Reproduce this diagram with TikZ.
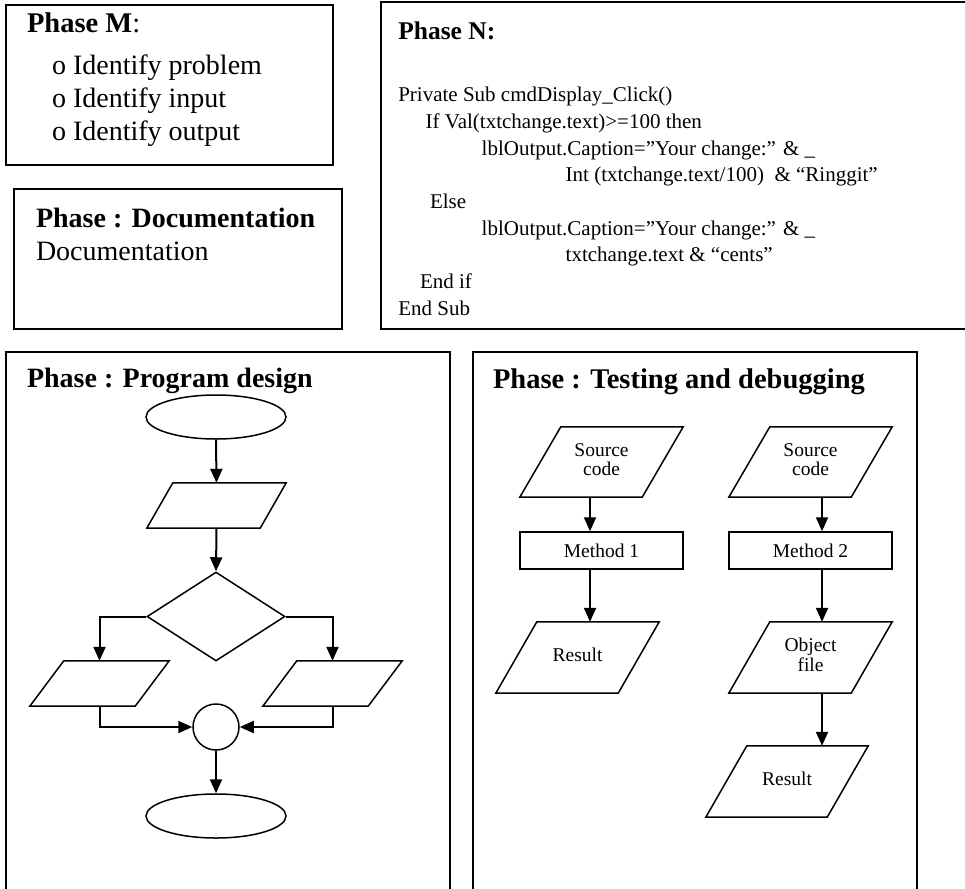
\documentclass[tikz,border=0pt]{standalone}
\usepackage{fontspec}
\setmainfont{Liberation Serif}
\usetikzlibrary{shapes.geometric,arrows.meta,calc}
\newcommand\fsz[1]{\fontsize{#1}{#1}\selectfont}
\newcommand\twoline[2]{\begin{tabular}{@{}c@{}}#1\\#2\end{tabular}}
\newcommand\paral[2]{\draw[shp] (#1.south west) -- ($(#1.south east)+(-#2,0)$) -- (#1.north east) -- ($(#1.north west)+(#2,0)$) -- cycle;}
\tikzset{
  frame/.style={draw=black, line width=1.7pt},
  shp/.style={draw=black, line width=1.5pt},
  arr/.style={line width=2pt, -{Triangle[length=14pt,width=12pt]}},
  txt/.style={anchor=base west, inner sep=0pt, outer sep=0pt},
  pbox/.style={draw=none, inner sep=0pt, align=center, font=\fsz{19.5}},
  ghost/.style={draw=none, inner sep=0pt},
}
\begin{document}
\begin{tikzpicture}[x=1pt,y=-1pt]
\clip (0,0) rectangle (965,888);
\fill[white] (0,0) rectangle (965,888);

% ---------- frames
\draw[frame] (6,5) rectangle (333,165);
\draw[frame] (14,189) rectangle (342,329);
\draw[frame] (381,2) rectangle (975,329);
\draw[frame] (6,352) rectangle (450,900);
\draw[frame] (473,352) rectangle (917,900);

% ---------- Phase M
\node[txt, font=\fsz{28.5}] (tM) at (27,33) {\textbf{Phase M}:};
\node[txt, font=\fsz{28}] (m1t) at (52,75) {o Identify problem};
\node[txt, font=\fsz{28}] (m2t) at (52,107) {o Identify input};
\node[txt, font=\fsz{28}] (m3t) at (52,140) {o Identify output};

% ---------- Documentation
\node[txt, font=\fsz{28}\bfseries] (tD) at (36,227) {Phase : Documentation};
\node[txt, font=\fsz{28}] (dD) at (36,260) {Documentation};

% ---------- Phase N
\node[txt, font=\fsz{25.5}\bfseries] (tN) at (398.3,40) {Phase N:};
\node[txt, font=\fsz{21}] (c1) at (398.3,101.7) {Private Sub cmdDisplay\_Click()};
\node[txt, font=\fsz{21}] (c2) at (425.7,128.3) {If Val(txtchange.text)>=100 then};
\node[txt, font=\fsz{21}] (c3) at (481.7,155) {lblOutput.Caption=”Your change:” \& \_};
\node[txt, font=\fsz{21}] (c4) at (565.7,181.7) {Int (txtchange.text/100)~ \& “Ringgit”};
\node[txt, font=\fsz{21}] (c5) at (430,208.3) {Else};
\node[txt, font=\fsz{21}] (c6) at (481.7,235) {lblOutput.Caption=”Your change:” \& \_};
\node[txt, font=\fsz{21}] (c7) at (565.7,261.7) {txtchange.text \& “cents”};
\node[txt, font=\fsz{21}] (c8) at (420,288.3) {End if};
\node[txt, font=\fsz{21}] (c9) at (398.3,315) {End Sub};

% ---------- Program design
\node[txt, font=\fsz{28}\bfseries] (tP) at (27,387) {Phase : Program design};
\node[shp, ellipse, minimum width=140pt, minimum height=44pt, inner sep=0pt] (e1) at (216,417) {};
\node[ghost, minimum width=139pt, minimum height=45pt] (p1) at (216.5,505.5) {};
\paral{p1}{26}
\node[shp, diamond, minimum width=138pt, minimum height=89pt, inner sep=0pt] (d) at (216,616.5) {};
\node[ghost, minimum width=139pt, minimum height=45pt] (pl) at (99.5,683.5) {};
\paral{pl}{34}
\node[ghost, minimum width=139pt, minimum height=45pt] (pr) at (332.5,683.5) {};
\paral{pr}{34}
\node[shp, circle, minimum size=46pt, inner sep=0pt] (c) at (216,727) {};
\node[shp, ellipse, minimum width=140pt, minimum height=44pt, inner sep=0pt] (e2) at (216,816) {};

\draw[arr] (e1.south) -- (p1.north);
\draw[arr] (p1.south) -- (d.north);
\draw[arr] (d.west) -| (pl.north);
\draw[arr] (d.east) -| (pr.north);
\draw[arr] (pl.south) |- (c.west);
\draw[arr] (pr.south) |- (c.east);
\draw[arr] (c.south) -- (e2.north);

% ---------- Testing and debugging
\node[txt, font=\fsz{28.5}\bfseries] (tT) at (493,388) {Phase : Testing and debugging};
\coordinate (colA) at (590,0);
\coordinate (colB) at (822,0);

\node[pbox, minimum width=163pt, minimum height=70pt] (s1) at (601.5,462) {\raisebox{3pt}{\twoline{Source}{code}}};
\paral{s1}{41}
\node[pbox, draw=black, line width=1.5pt, minimum width=163pt, minimum height=37pt] (me1) at (601.5,550.5) {Method 1};
\node[pbox, minimum width=163pt, minimum height=71pt] (r1) at (577.5,657.5) {\raisebox{5pt}{Result}};
\paral{r1}{41}

\node[pbox, minimum width=163pt, minimum height=70pt] (s2) at (810.5,462) {\raisebox{3pt}{\twoline{Source}{code}}};
\paral{s2}{41}
\node[pbox, draw=black, line width=1.5pt, minimum width=163pt, minimum height=37pt] (me2) at (810.5,550.5) {Method 2};
\node[pbox, minimum width=163pt, minimum height=71pt] (o2) at (810.5,657.5) {\raisebox{2pt}{\twoline{Object}{file}}};
\paral{o2}{41}
\node[pbox, minimum width=162pt, minimum height=71pt] (r2) at (787,781.5) {\raisebox{5pt}{Result}};
\paral{r2}{41}

\draw[arr] (s1.south -| colA) -- (me1.north -| colA);
\draw[arr] (me1.south -| colA) -- (r1.north -| colA);
\draw[arr] (s2.south -| colB) -- (me2.north -| colB);
\draw[arr] (me2.south -| colB) -- (o2.north -| colB);
\draw[arr] (o2.south -| colB) -- (r2.north -| colB);
\end{tikzpicture}
\end{document}
